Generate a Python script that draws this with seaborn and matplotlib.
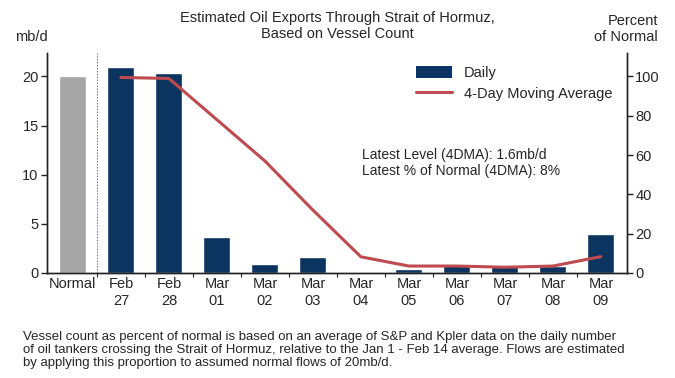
import numpy as np
import pandas as pd
import matplotlib
matplotlib.use('Agg')
import matplotlib.pyplot as plt
from matplotlib.patches import Patch
from matplotlib.lines import Line2D
import seaborn as sns

sns.set_style("white")
plt.rcParams['font.family'] = ['Liberation Sans', 'DejaVu Sans']

# data
categories = ['Normal', 'Feb\n27', 'Feb\n28', 'Mar\n01', 'Mar\n02', 'Mar\n03',
              'Mar\n04', 'Mar\n05', 'Mar\n06', 'Mar\n07', 'Mar\n08', 'Mar\n09']
daily_mbd = [20.0, 21.0, 20.4, 3.7, 0.9, 1.6, 0.0, 0.4, 0.8, 0.85, 0.75, 4.0]
ma_categories = categories[1:]
ma_pct = [99.5, 99.0, 78.0, 57.0, 32.0, 8.2, 3.5, 3.5, 2.9, 3.5, 8.3]

navy = '#0B3461'
grey = '#A6A6A6'
red = '#BF4A4F'

df = pd.DataFrame({'cat': categories, 'val': daily_mbd})
colors = [grey] + [navy] * (len(categories) - 1)

fig = plt.figure(figsize=(6.75, 3.78), dpi=100)
ax = fig.add_axes([0.0696, 0.278, 0.859, 0.582])

sns.barplot(data=df, x='cat', y='val', hue='cat', palette=colors, legend=False,
            width=0.56, saturation=1, ax=ax)
ax.set_xlim(-0.54, len(categories) - 0.46)
ax.set_ylim(0, 22.4)
ax.set_yticks([0, 5, 10, 15, 20])
ax.set_xlabel('')
ax.set_ylabel('')
ax.axvline(0.5, color='#777777', lw=0.7, ls=(0, (1.5, 1.5)))

ax2 = ax.twinx()
ma_x = [categories.index(c) for c in ma_categories]
sns.lineplot(x=ma_x, y=ma_pct, color=red, lw=2.2, ax=ax2)
ax2.set_ylim(0, 112)
ax2.set_yticks([0, 20, 40, 60, 80, 100])

for a in (ax, ax2):
    a.spines['top'].set_visible(False)
    for s in ('left', 'right', 'bottom'):
        a.spines[s].set_color('#222222')
        a.spines[s].set_linewidth(1.0)
ax.tick_params(axis='y', left=True, length=4, width=1, color='#222222',
               labelsize=10.5, pad=2)
ax2.tick_params(axis='y', right=True, length=4, width=1, color='#222222',
                labelsize=10.5, pad=2)
ax.tick_params(axis='x', which='major', length=0, labelsize=10.5, pad=3)
ax.set_xticks(np.arange(len(categories) - 1) + 0.5, minor=True)
ax.tick_params(axis='x', which='minor', bottom=True, length=3, width=0.8,
               color='#222222')
for lab in ax.get_xticklabels():
    lab.set_linespacing(1.25)

handles = [Patch(facecolor=navy, edgecolor='none'),
           Line2D([0], [0], color=red, lw=2.2)]
ax2.legend(handles, ['Daily', '4-Day Moving Average'], loc='upper right',
           bbox_to_anchor=(0.998, 1.0), frameon=False, fontsize=10.5,
           handlelength=2.5, handleheight=0.9, labelspacing=0.45)

ax.text(0.543, 0.57, 'Latest Level (4DMA): 1.6mb/d\nLatest % of Normal (4DMA): 8%',
        transform=ax.transAxes, ha='left', va='top', fontsize=10,
        linespacing=1.25)

fig.text(0.5, 0.972, 'Estimated Oil Exports Through Strait of Hormuz,\nBased on Vessel Count',
         ha='center', va='top', fontsize=10.5, linespacing=1.2)
fig.text(0.022, 0.884, 'mb/d', ha='left', va='bottom', fontsize=10.5)
fig.text(0.975, 0.884, 'Percent\nof Normal', ha='right', va='bottom',
         fontsize=10.5, linespacing=1.2)

fig.text(0.034, 0.024,
         'Vessel count as percent of normal is based on an average of S&P and Kpler data on the daily number\n'
         'of oil tankers crossing the Strait of Hormuz, relative to the Jan 1 - Feb 14 average. Flows are estimated\n'
         'by applying this proportion to assumed normal flows of 20mb/d.',
         ha='left', va='bottom', fontsize=9.5, linespacing=1.08)

fig.savefig('out.png', dpi=100)
